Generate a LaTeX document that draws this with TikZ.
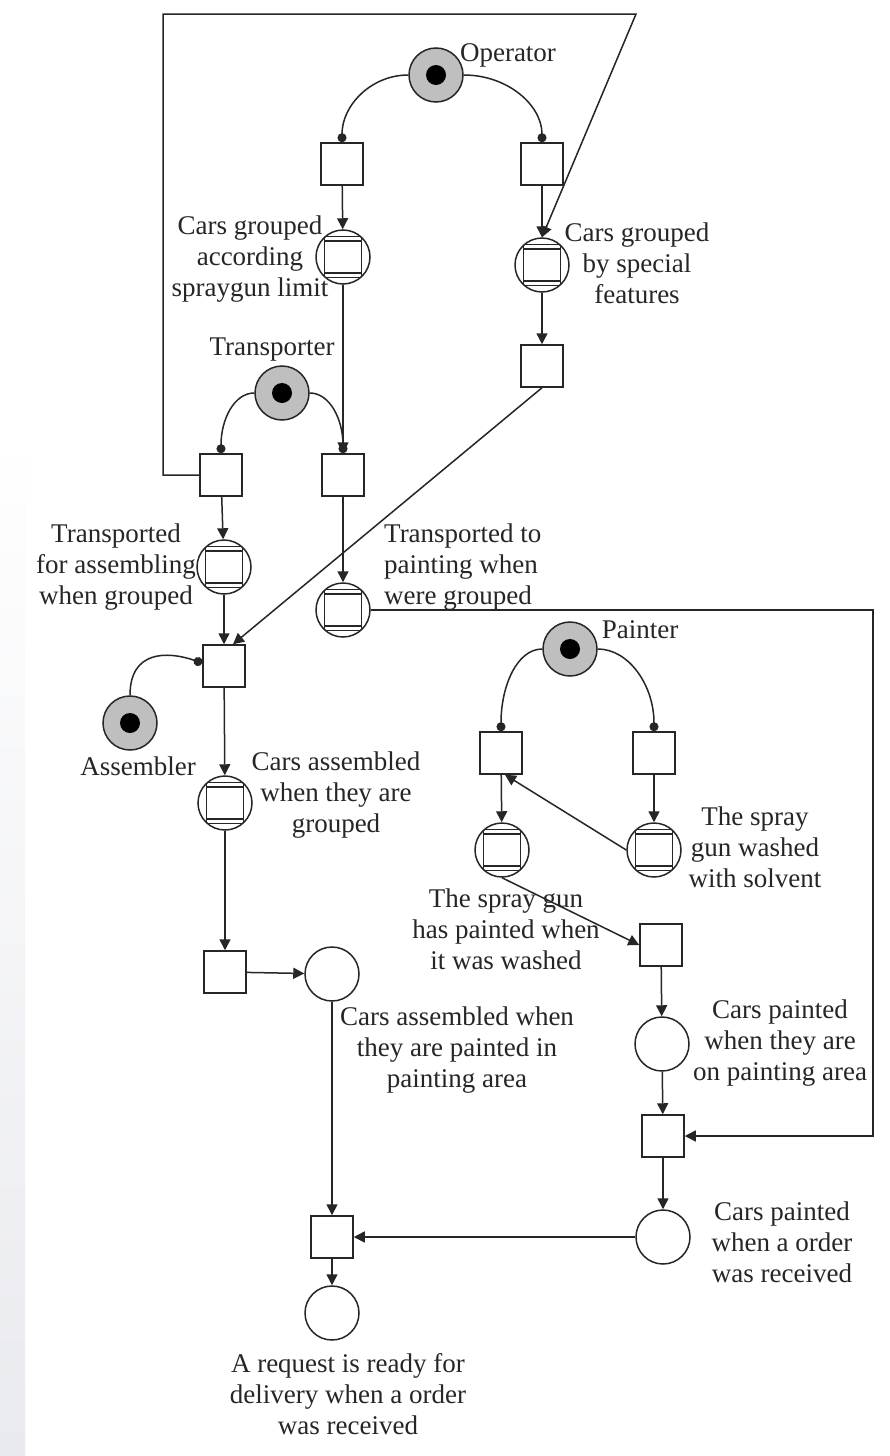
\documentclass[tikz,border=0pt]{standalone}
\usepackage{fontspec}
\setmainfont{Liberation Serif}
\usetikzlibrary{arrows.meta}
\begin{document}
\begin{tikzpicture}[x=1pt,y=-1pt,
  every node/.style={inner sep=0pt},
  place/.style={circle, draw=black!85, line width=1.5pt, minimum size=54pt, fill=white},
  resource/.style={place, fill=gray!50,
    path picture={\fill[black] (path picture bounding box.center) circle (10pt);}},
  macro/.style={place,
    path picture={
      \draw[line width=1.4pt, black!85] (path picture bounding box.center) ++(-18.5,-16) rectangle ++(37,32);
      \draw[line width=1.4pt, black!85] (path picture bounding box.center) ++(-18.5,-30) -- ++(0,60);
      \draw[line width=1.4pt, black!85] (path picture bounding box.center) ++(18.5,-30) -- ++(0,60);
      \draw[line width=1.4pt, black!85] (path picture bounding box.center) ++(-18.5,-20.5) -- ++(37,0);
      \draw[line width=1.4pt, black!85] (path picture bounding box.center) ++(-18.5,20.5) -- ++(37,0);
    }},
  trans/.style={rectangle, draw=black!85, line width=1.5pt, minimum size=42pt, fill=white},
  arc/.style={line width=1.5pt, draw=black!85, -{Triangle[length=11pt,width=11pt]}},
  readarc/.style={line width=1.5pt, draw=black!85, -{Circle[length=9pt]}},
  lbl/.style={font=\fontsize{27}{31}\selectfont, align=center, text=black!85}
]
% page and the faint strip on the left edge
\fill[white] (0,0) rectangle (890,1456);
\shade[top color=white, bottom color={rgb,255:red,233;green,234;blue,239}] (0,430) rectangle (25,1456);
\useasboundingbox (0,0) rectangle (890,1456);

% places and transitions
\node[resource] (op) at (436,75) {};
\node[trans] (t1) at (342,164) {};
\node[trans] (t2) at (542,164) {};
\node[macro] (m1) at (343,257) {};
\node[macro] (m2) at (542,265) {};
\node[trans] (t3) at (542,366) {};
\node[resource] (tr) at (282,393) {};
\node[trans] (t4) at (221,475) {};
\node[trans] (t5) at (343,475) {};
\node[macro] (m3) at (224,567) {};
\node[macro] (m4) at (343,610) {};
\node[trans] (t6) at (224,666) {};
\node[resource] (as) at (130,723) {};
\node[macro] (m5) at (225,803) {};
\node[trans] (t7) at (225,972) {};
\node[place] (pa) at (332,974) {};
\node[trans] (t8) at (332,1237) {};
\node[place] (pd) at (332,1313) {};
\node[resource] (pt) at (570,649) {};
\node[trans] (tpl) at (501,753) {};
\node[trans] (tpr) at (654,753) {};
\node[macro] (m6) at (502,850) {};
\node[macro] (m7) at (654,850) {};
\node[trans] (tp2) at (661,945) {};
\node[place] (pp) at (662,1044) {};
\node[trans] (tp3) at (663,1136) {};
\node[place] (po) at (663,1237) {};

% labels
\node[lbl] (lop) at (508,55) {Operator};
\node[lbl] (lm1) at (250,259) {Cars grouped\\according\\spraygun limit};
\node[lbl] (lm2) at (637,263) {Cars grouped\\by special\\features};
\node[lbl] (ltr) at (272,350) {Transporter};
\node[lbl] (lm3) at (116,567) {Transported\\for assembling\\when grouped};
\node[lbl, align=left, anchor=west] (lm4) at (384,567) {Transported to\\painting when\\were grouped};
\node[lbl] (lpt) at (640,630) {Painter};
\node[lbl] (las) at (138,766) {Assembler};
\node[lbl] (lm5) at (336,795) {Cars assembled\\when they are\\grouped};
\node[lbl] (lm7) at (755,847) {The spray\\gun washed\\with solvent};
\node[lbl] (lm6) at (506,929) {The spray gun\\has painted when\\it was washed};
\node[lbl] (lpa) at (457,1050) {Cars assembled when\\they are painted in\\painting area};
\node[lbl] (lpp) at (780,1043) {Cars painted\\when they are\\on painting area};
\node[lbl] (lpo) at (782,1242) {Cars painted\\when a order\\was received};
\node[lbl] (lpd) at (348,1394) {A request is ready for\\delivery when a order\\was received};

% operator branch
\draw[readarc] (op.west) .. controls +(-37,0) and +(0,-37) .. (t1.north);
\draw[readarc] (op.east) .. controls +(44,0) and +(0,-37) .. (t2.north);
\draw[arc] (t1) -- (m1);
\draw[arc] (t2) -- (m2);
\draw[arc] (m2) -- (t3);
\draw[arc] (m1) -- (t5);

% transporter branch
\draw[readarc] (tr.west) .. controls +(-20,0) and +(0,-34) .. (t4.north);
\draw[readarc] (tr.east) .. controls +(20,0) and +(0,-34) .. (t5.north);
\draw[arc] (t4) -- (m3);
\draw[arc] (t5) -- (m4);
\draw[arc] (t4.west) -- (163,475) -- (163,14) -- (636,14) -- (m2.north);

% assembling
\draw[arc] (m3) -- (t6);
\draw[arc] (t3.south) -- ([xshift=9pt]t6.north);
\draw[readarc] (as.north) .. controls +(0,-45) and +(-35,-12) .. ([yshift=3pt]t6.west);
\draw[arc] (t6) -- (m5);
\draw[arc] (m5) -- (t7);
\draw[arc] (t7) -- (pa);
\draw[arc] (pa) -- (t8);

% painter branch
\draw[readarc] (pt.west) .. controls +(-25,0) and +(0,-46) .. (tpl.north);
\draw[readarc] (pt.east) .. controls +(31,0) and +(0,-46) .. (tpr.north);
\draw[arc] (tpl) -- (m6);
\draw[arc] (tpr) -- (m7);
\draw[arc] (m7.west) -- ([xshift=4pt]tpl.south);
\draw[arc] (m6.south) -- (tp2.west);
\draw[arc] (tp2) -- (pp);
\draw[arc] (pp) -- (tp3);
\draw[arc] (m4.east) -- (873,610) -- (873,1136) -- (tp3.east);
\draw[arc] (tp3) -- (po);
\draw[arc] (po) -- (t8);
\draw[arc] (t8) -- (pd);
\end{tikzpicture}
\end{document}
